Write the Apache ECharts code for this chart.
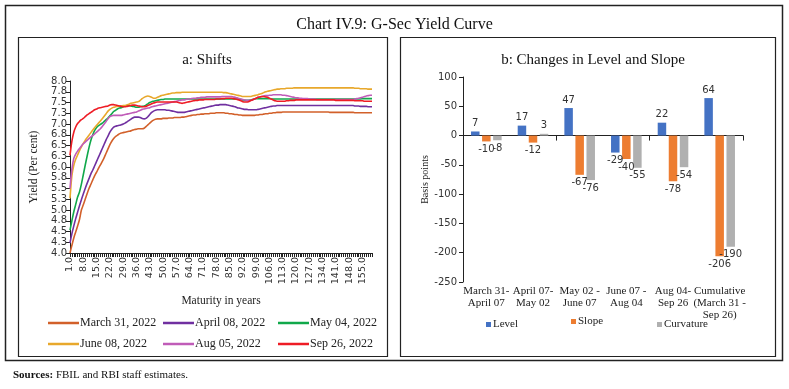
<!DOCTYPE html>
<html><head><meta charset="utf-8">
<script src="https://cdn.jsdelivr.net/npm/echarts@6/dist/echarts.min.js"></script>
<style>html,body{margin:0;padding:0;background:#fff}#c{width:789px;height:389px}</style>
</head><body><div id="c"></div>
<script>
// ---- Panel a: yield curves (maturity index 1..160) ----
const maturities = [];
for (let m = 1; m <= 160; m++) maturities.push(m.toFixed(1));
const seriesNames = ['March 31, 2022','April 08, 2022','May 04, 2022','June 08, 2022','Aug 05, 2022','Sep 26, 2022'];
const mar31 = [4.00,4.18,4.35,4.49,4.63,4.78,5.00,5.12,5.25,5.38,
5.50,5.60,5.70,5.80,5.88,5.97,6.05,6.13,6.22,6.32,
6.42,6.52,6.60,6.66,6.71,6.74,6.77,6.79,6.80,6.81,
6.82,6.83,6.84,6.86,6.87,6.88,6.89,6.89,6.89,6.90,
6.94,6.98,7.02,7.06,7.09,7.11,7.12,7.12,7.12,7.13,
7.13,7.13,7.14,7.14,7.14,7.15,7.15,7.15,7.15,7.16,
7.16,7.17,7.18,7.19,7.20,7.21,7.21,7.22,7.22,7.23,
7.23,7.24,7.24,7.24,7.25,7.25,7.25,7.26,7.26,7.26,
7.26,7.26,7.25,7.25,7.24,7.24,7.23,7.22,7.22,7.21,
7.21,7.20,7.20,7.20,7.20,7.20,7.20,7.20,7.21,7.21,
7.22,7.22,7.23,7.24,7.24,7.25,7.25,7.26,7.26,7.27,
7.27,7.27,7.28,7.28,7.28,7.28,7.28,7.28,7.28,7.28,
7.28,7.28,7.28,7.28,7.28,7.28,7.28,7.28,7.28,7.28,
7.28,7.28,7.28,7.28,7.28,7.28,7.28,7.27,7.27,7.27,
7.27,7.27,7.27,7.27,7.27,7.27,7.27,7.27,7.27,7.27,
7.26,7.26,7.26,7.26,7.26,7.26,7.26,7.26,7.26,7.26];
const apr08 = [4.23,4.45,4.63,4.80,4.95,5.10,5.24,5.37,5.50,5.62,
5.73,5.84,5.93,6.03,6.13,6.23,6.33,6.43,6.53,6.63,
6.72,6.81,6.88,6.93,6.95,6.96,6.97,6.98,7.00,7.02,
7.05,7.08,7.11,7.14,7.16,7.16,7.16,7.15,7.13,7.12,
7.13,7.17,7.22,7.27,7.30,7.32,7.33,7.33,7.33,7.33,
7.33,7.32,7.32,7.31,7.30,7.29,7.28,7.27,7.27,7.27,
7.27,7.28,7.29,7.30,7.31,7.32,7.33,7.34,7.35,7.36,
7.37,7.38,7.39,7.40,7.41,7.42,7.43,7.44,7.44,7.45,
7.45,7.45,7.45,7.44,7.43,7.42,7.41,7.40,7.38,7.37,
7.36,7.35,7.34,7.34,7.33,7.33,7.33,7.33,7.33,7.34,
7.35,7.36,7.37,7.38,7.39,7.40,7.41,7.42,7.42,7.43,
7.43,7.43,7.43,7.43,7.43,7.43,7.43,7.43,7.43,7.43,
7.43,7.43,7.43,7.43,7.43,7.43,7.43,7.43,7.43,7.43,
7.43,7.43,7.43,7.43,7.43,7.43,7.43,7.43,7.43,7.43,
7.43,7.43,7.43,7.43,7.43,7.43,7.43,7.43,7.43,7.43,
7.42,7.42,7.42,7.41,7.41,7.41,7.41,7.40,7.40,7.40];
const may04 = [4.53,4.75,4.96,5.13,5.30,5.42,5.60,5.82,6.04,6.25,
6.45,6.62,6.75,6.85,6.92,6.96,6.99,7.02,7.06,7.10,
7.14,7.19,7.24,7.29,7.32,7.35,7.37,7.38,7.40,7.42,
7.43,7.43,7.42,7.41,7.40,7.39,7.39,7.40,7.41,7.42,
7.44,7.47,7.50,7.52,7.53,7.54,7.55,7.56,7.57,7.57,
7.58,7.58,7.58,7.58,7.58,7.58,7.58,7.58,7.58,7.58,
7.58,7.58,7.58,7.58,7.58,7.58,7.58,7.58,7.58,7.58,
7.58,7.58,7.58,7.58,7.58,7.58,7.58,7.58,7.58,7.58,
7.58,7.58,7.58,7.58,7.58,7.58,7.58,7.58,7.58,7.58,
7.57,7.56,7.55,7.55,7.55,7.56,7.57,7.58,7.59,7.59,
7.59,7.59,7.59,7.59,7.59,7.59,7.58,7.58,7.58,7.58,
7.58,7.58,7.58,7.58,7.58,7.58,7.58,7.58,7.58,7.58,
7.58,7.58,7.58,7.58,7.58,7.58,7.58,7.58,7.58,7.58,
7.58,7.58,7.58,7.58,7.58,7.58,7.58,7.58,7.58,7.58,
7.58,7.58,7.58,7.58,7.58,7.58,7.58,7.58,7.58,7.58,
7.58,7.58,7.58,7.58,7.59,7.59,7.59,7.59,7.59,7.59];
const jun08 = [5.27,5.80,6.04,6.18,6.28,6.38,6.47,6.55,6.62,6.68,
6.74,6.80,6.86,6.92,6.97,7.02,7.07,7.12,7.18,7.24,
7.30,7.34,7.37,7.39,7.40,7.41,7.42,7.42,7.43,7.43,
7.44,7.46,7.48,7.49,7.50,7.51,7.52,7.55,7.59,7.62,
7.64,7.65,7.64,7.62,7.60,7.60,7.62,7.64,7.66,7.67,
7.68,7.69,7.70,7.71,7.72,7.72,7.73,7.73,7.73,7.74,
7.74,7.74,7.74,7.74,7.74,7.74,7.74,7.74,7.74,7.74,
7.74,7.74,7.74,7.74,7.74,7.74,7.74,7.74,7.74,7.74,
7.74,7.73,7.73,7.72,7.71,7.70,7.69,7.68,7.67,7.66,
7.65,7.64,7.64,7.64,7.64,7.64,7.65,7.66,7.67,7.68,
7.70,7.71,7.73,7.75,7.76,7.77,7.78,7.79,7.80,7.81,
7.81,7.82,7.82,7.82,7.83,7.83,7.83,7.83,7.84,7.84,
7.84,7.84,7.84,7.84,7.84,7.84,7.84,7.84,7.84,7.84,
7.84,7.84,7.84,7.84,7.84,7.84,7.84,7.84,7.84,7.84,
7.84,7.84,7.84,7.84,7.84,7.84,7.84,7.84,7.84,7.84,
7.83,7.83,7.83,7.82,7.82,7.82,7.82,7.81,7.81,7.81];
const aug05 = [5.50,5.95,6.20,6.30,6.37,6.43,6.49,6.54,6.58,6.62,
6.66,6.70,6.73,6.77,6.81,6.85,6.89,6.94,7.00,7.06,
7.12,7.17,7.19,7.20,7.20,7.20,7.20,7.20,7.21,7.22,
7.23,7.24,7.25,7.26,7.27,7.28,7.30,7.32,7.34,7.35,
7.36,7.37,7.38,7.40,7.41,7.42,7.43,7.44,7.45,7.46,
7.47,7.48,7.49,7.50,7.51,7.52,7.53,7.54,7.55,7.56,
7.56,7.57,7.58,7.58,7.59,7.60,7.60,7.61,7.61,7.62,
7.62,7.62,7.63,7.63,7.63,7.63,7.63,7.63,7.63,7.63,
7.64,7.64,7.64,7.64,7.64,7.64,7.63,7.62,7.61,7.59,
7.58,7.57,7.56,7.55,7.55,7.55,7.56,7.58,7.60,7.62,
7.63,7.64,7.65,7.66,7.66,7.67,7.67,7.68,7.68,7.68,
7.68,7.68,7.67,7.67,7.66,7.65,7.64,7.63,7.62,7.61,
7.61,7.60,7.60,7.59,7.59,7.59,7.58,7.58,7.58,7.58,
7.57,7.57,7.57,7.57,7.57,7.57,7.57,7.57,7.57,7.57,
7.57,7.57,7.57,7.57,7.57,7.57,7.57,7.57,7.57,7.57,
7.58,7.59,7.60,7.61,7.62,7.64,7.65,7.66,7.67,7.67];
const sep26 = [6.27,6.60,6.81,6.93,7.01,7.06,7.10,7.13,7.17,7.21,
7.24,7.27,7.30,7.33,7.35,7.37,7.38,7.39,7.40,7.41,
7.42,7.44,7.45,7.45,7.44,7.43,7.42,7.41,7.40,7.40,
7.41,7.42,7.43,7.44,7.44,7.43,7.42,7.41,7.40,7.40,
7.41,7.43,7.45,7.47,7.49,7.50,7.51,7.51,7.51,7.51,
7.51,7.51,7.51,7.51,7.51,7.51,7.51,7.50,7.49,7.48,
7.49,7.50,7.51,7.52,7.53,7.54,7.55,7.55,7.56,7.56,
7.56,7.57,7.57,7.57,7.57,7.57,7.57,7.58,7.58,7.58,
7.59,7.59,7.60,7.60,7.60,7.60,7.59,7.58,7.57,7.56,
7.54,7.52,7.51,7.51,7.52,7.54,7.56,7.58,7.60,7.62,
7.63,7.64,7.64,7.63,7.62,7.60,7.58,7.56,7.54,7.53,
7.53,7.53,7.53,7.53,7.54,7.54,7.55,7.55,7.55,7.56,
7.56,7.56,7.56,7.56,7.56,7.56,7.56,7.56,7.56,7.56,
7.56,7.56,7.56,7.56,7.56,7.56,7.56,7.56,7.56,7.56,
7.55,7.55,7.55,7.55,7.55,7.55,7.55,7.55,7.55,7.55,
7.54,7.54,7.54,7.54,7.54,7.53,7.53,7.53,7.53,7.53];
const lineColors = ['#D2602A','#7030A0','#10A84A','#E8A82C','#C05CB8','#EE1C25'];

// ---- Panel b: level / slope / curvature changes ----
const periods = ['March 31-\nApril 07','April 07-\nMay 02','May 02 -\nJune 07','June 07 -\nAug 04','Aug 04-\nSep 26','Cumulative\n(March 31 -\nSep 26)'];
const level = [7, 17, 47, -29, 22, 64];
const slope = [-10, -12, -67, -40, -78, -206];
const curvature = [-8, 3, -76, -55, -54, -190];
const barNames = ['Level','Slope','Curvature'];
const barColors = ['#4472C4','#ED7D31','#B0B0B0'];

const serif = 'Liberation Serif';
const sans = 'DejaVu Sans';
const lineData = [mar31, apr08, may04, jun08, aug05, sep26];

const legendPos = [[43,312],[158,312],[273,312],[43,333],[158,333],[273,333]];
const legendsA = seriesNames.map((n, i) => ({
  show: true, data: [n], left: legendPos[i][0], top: legendPos[i][1],
  icon: 'rect', itemWidth: 31, itemHeight: 2.5, itemGap: 2,
  textStyle: {fontFamily: serif, fontSize: 12, color: '#222', padding: [0,0,0,-4]}
}));
const legendBPos = [[481,314],[566,311],[652,314]];
const legendsB = barNames.map((n, i) => ({
  show: true, data: [n], left: legendBPos[i][0], top: legendBPos[i][1],
  icon: 'rect', itemWidth: 5, itemHeight: 5, itemGap: 1,
  textStyle: {fontFamily: serif, fontSize: 11, color: '#222', padding: [0,0,0,-3]}
}));

function barData(arr) {
  return arr.map(v => ({value: v, label: {position: v < 0 ? 'bottom' : 'top'}}));
}

const option = {
  animation: false,
  backgroundColor: '#fff',
  textStyle: {fontFamily: sans},
  title: [
    {text: 'Chart IV.9: G-Sec Yield Curve', left: 'center', top: 12,
     textStyle: {fontFamily: serif, fontSize: 16, fontWeight: 'normal', color: '#111'}},
    {text: 'a: Shifts', left: 202, textAlign: 'center', top: 48,
     textStyle: {fontFamily: serif, fontSize: 15, fontWeight: 'normal', color: '#111'}},
    {text: 'b: Changes in Level and Slope', left: 588, textAlign: 'center', top: 48,
     textStyle: {fontFamily: serif, fontSize: 15, fontWeight: 'normal', color: '#111'}},
    {text: '{b|Sources:} FBIL and RBI staff estimates.', left: 8, top: 365,
     textStyle: {rich: {b: {fontFamily: serif, fontSize: 11, fontWeight: 'bold', color: '#111'}},
       fontFamily: serif, fontSize: 11, fontWeight: 'normal', color: '#111'}}
  ],
  graphic: [
    {type: 'rect', shape: {x: 5.5, y: 5.5, width: 777, height: 355}, style: {fill: 'none', stroke: '#222', lineWidth: 1.5}},
    {type: 'rect', shape: {x: 18.5, y: 37.5, width: 369, height: 319}, style: {fill: 'none', stroke: '#222', lineWidth: 1.2}},
    {type: 'rect', shape: {x: 400.5, y: 37.5, width: 375, height: 319}, style: {fill: 'none', stroke: '#222', lineWidth: 1.2}}
  ],
  legend: legendsA.concat(legendsB),
  grid: [
    {left: 70, right: 417, top: 81, bottom: 136, containLabel: false},
    {left: 463, right: 46, top: 77, bottom: 107, containLabel: false}
  ],
  xAxis: [
    {type: 'category', gridIndex: 0, data: maturities, boundaryGap: false,
     name: 'Maturity in years', nameLocation: 'middle', nameGap: 42,
     nameTextStyle: {fontFamily: serif, fontSize: 11.5, color: '#222'},
     axisLine: {show: true, lineStyle: {color: '#222', width: 1}},
     axisTick: {show: true, interval: 0, length: 4, lineStyle: {color: '#222'}},
     axisLabel: {interval: 6, rotate: 90, fontFamily: sans, fontSize: 9.5, color: '#333', margin: 4},
     splitLine: {show: false}},
    {type: 'category', gridIndex: 1, data: periods,
     axisLine: {show: true, onZero: true, lineStyle: {color: '#222', width: 1}},
     axisTick: {show: true, length: 5, lineStyle: {color: '#222'}},
     axisLabel: {show: false}, splitLine: {show: false}},
    {type: 'category', gridIndex: 1, data: periods, position: 'bottom',
     axisLine: {show: false, onZero: false}, axisTick: {show: false},
     axisLabel: {show: true, interval: 0, fontFamily: serif, fontSize: 11, color: '#222', lineHeight: 12, margin: 3},
     splitLine: {show: false}}
  ],
  yAxis: [
    {type: 'value', gridIndex: 0, min: 4, max: 8, interval: 0.25,
     name: 'Yield (Per cent)', nameLocation: 'middle', nameGap: 30,
     nameTextStyle: {fontFamily: serif, fontSize: 11.5, color: '#222'},
     axisLine: {show: true, lineStyle: {color: '#222', width: 1}},
     axisTick: {show: true, length: 4, lineStyle: {color: '#222'}},
     axisLabel: {fontFamily: sans, fontSize: 10, color: '#333', margin: 3, formatter: v => v.toFixed(1)},
     splitLine: {show: false}},
    {type: 'value', gridIndex: 1, min: -250, max: 100, interval: 50,
     name: 'Basis points', nameLocation: 'middle', nameGap: 33,
     nameTextStyle: {fontFamily: serif, fontSize: 10, color: '#222'},
     axisLine: {show: true, lineStyle: {color: '#222', width: 1}},
     axisTick: {show: true, length: 4, lineStyle: {color: '#222'}},
     axisLabel: {fontFamily: sans, fontSize: 10, color: '#333', margin: 6},
     splitLine: {show: false}}
  ],
  series: lineData.map((d, i) => ({
    type: 'line', name: seriesNames[i], xAxisIndex: 0, yAxisIndex: 0, data: d,
    smooth: 0.3, symbol: 'none', lineStyle: {width: 1.6, color: lineColors[i]}, itemStyle: {color: lineColors[i]}
  })).concat([level, slope, curvature].map((d, i) => ({
    type: 'bar', name: barNames[i], xAxisIndex: 1, yAxisIndex: 1, data: barData(d),
    barWidth: 8.5, barGap: '30%', itemStyle: {color: barColors[i]},
    label: {show: true, distance: 3, fontFamily: sans, fontSize: 10, color: '#333'}
  })))
};
const chart = echarts.init(document.getElementById('c'), null, {renderer: 'canvas'});
chart.setOption(option);
</script></body></html>
